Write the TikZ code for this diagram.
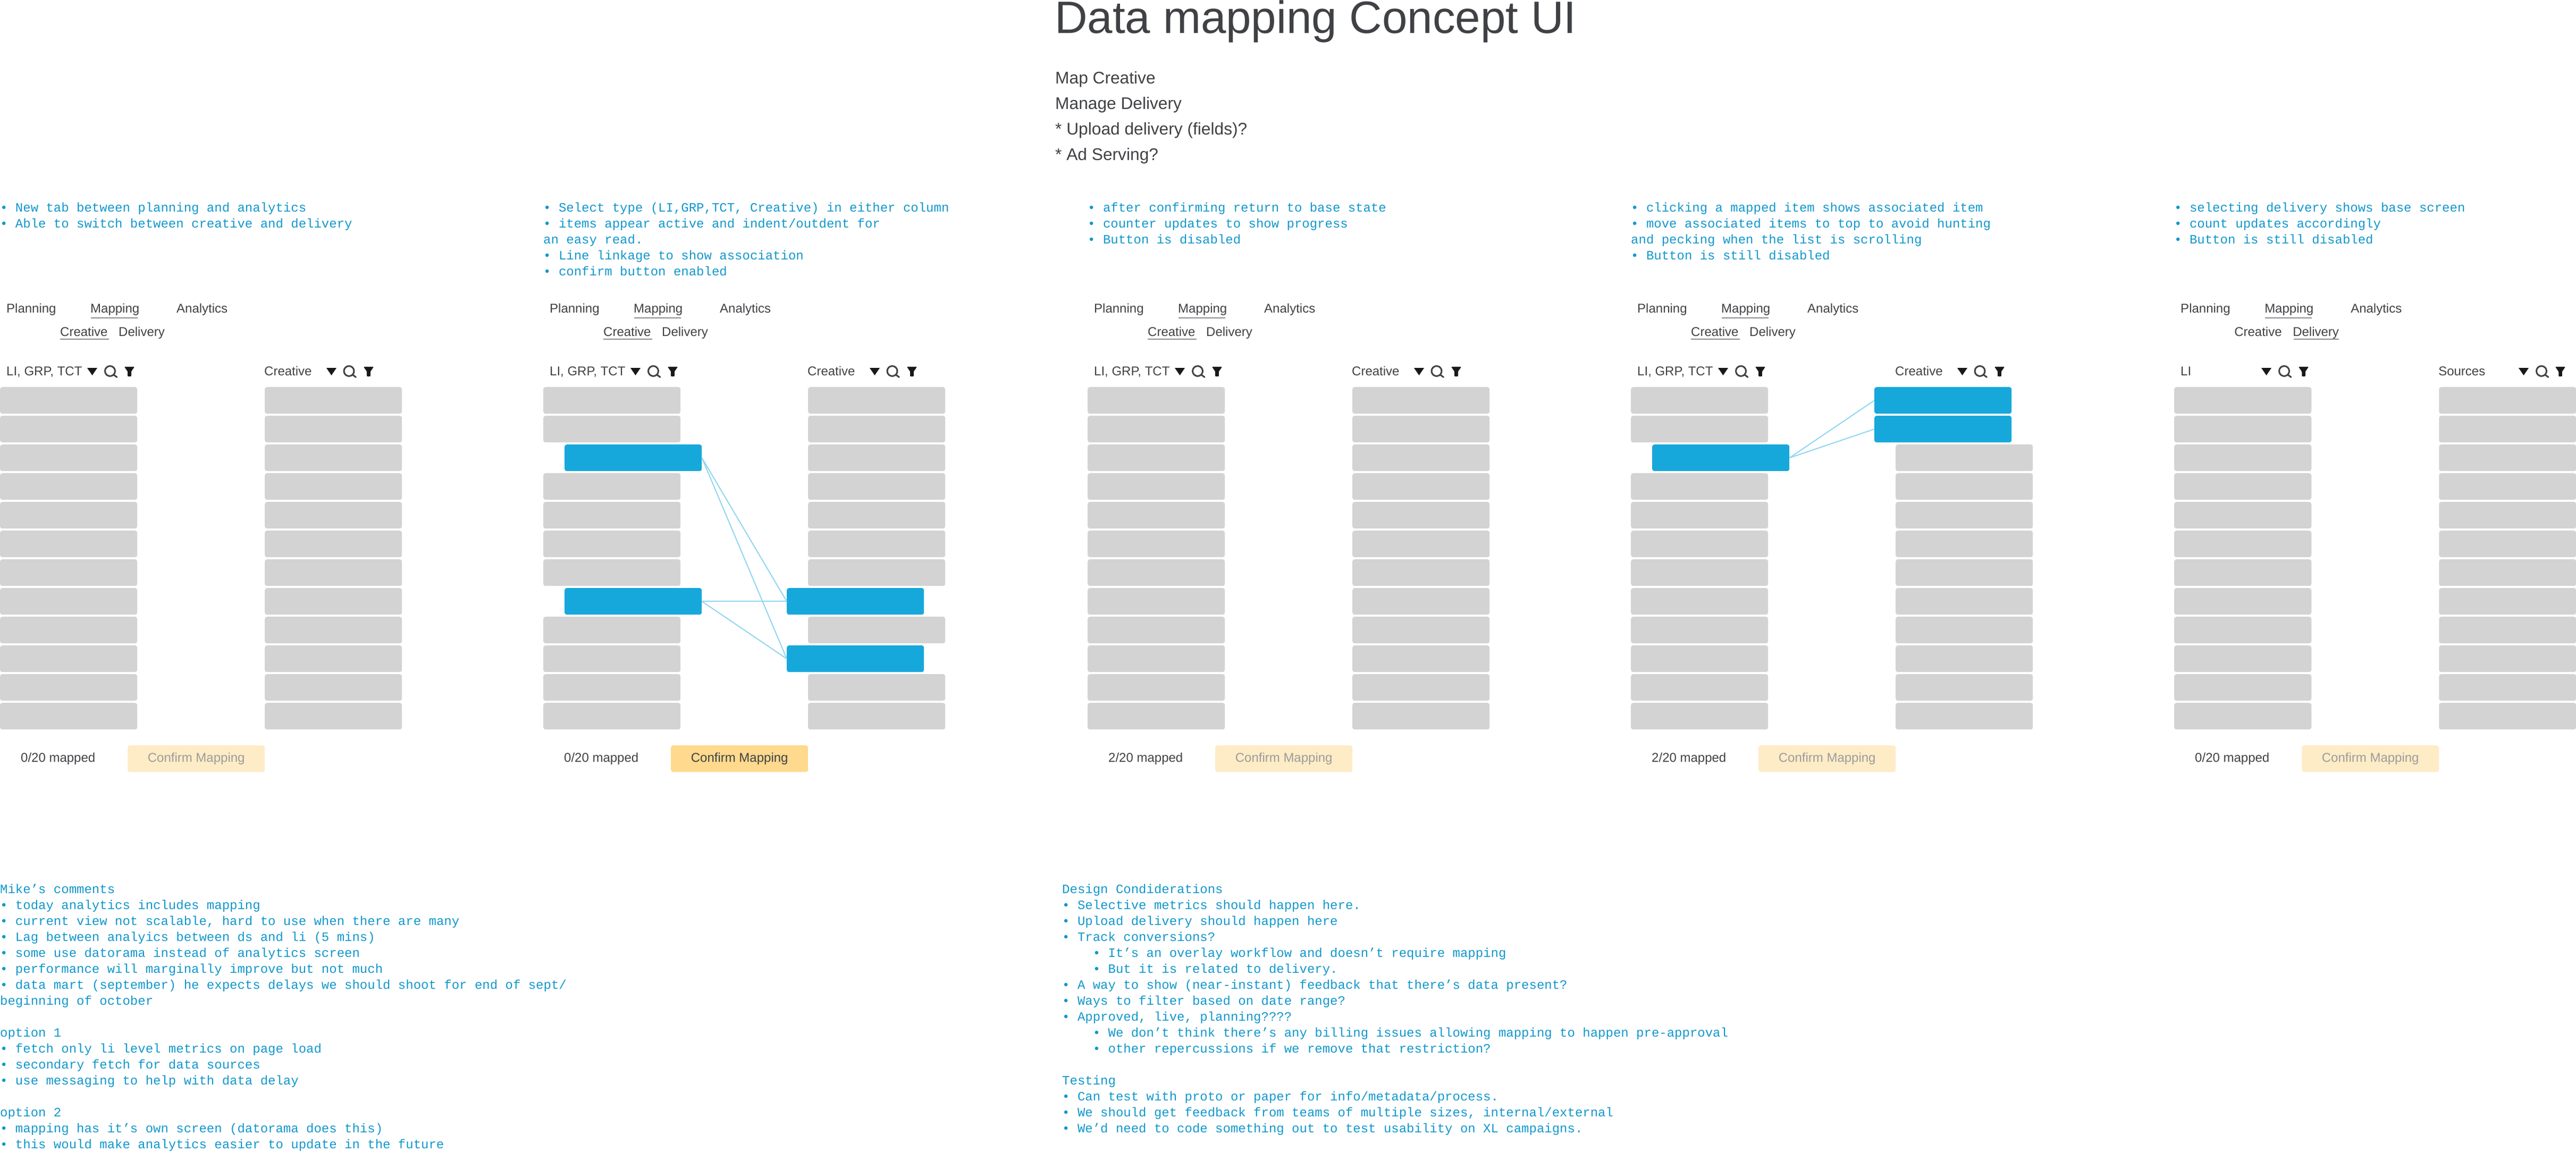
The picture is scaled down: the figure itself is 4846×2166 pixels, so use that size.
\documentclass[tikz,border=0pt]{standalone}
\usepackage{fontspec}
\setmainfont{Liberation Sans}
\newfontfamily\notefont{Liberation Mono}
\definecolor{ink}{HTML}{3F4144}
\definecolor{dark}{HTML}{18191B}
\definecolor{tabgrey}{HTML}{8E8E8E}
\definecolor{rowgrey}{HTML}{D3D3D3}
\definecolor{rowblue}{HTML}{17A8DB}
\definecolor{linkblue}{HTML}{8FD6F0}
\definecolor{notecol}{HTML}{1097CB}
\definecolor{btnon}{HTML}{FFD98D}
\definecolor{btnoff}{HTML}{FEECC6}
\definecolor{btntext}{HTML}{9C9C9C}
\tikzset{
  x=1pt,y=-1pt,
  uitext/.style={anchor=base west,inner sep=0pt,text=ink,font=\fontsize{24}{28}\selectfont},
  rowbox/.style={anchor=north west,inner sep=0pt,minimum width=258pt,minimum height=50pt,rounded corners=4pt,draw=none},
  greyrow/.style={rowbox,fill=rowgrey},
  bluerow/.style={rowbox,fill=rowblue},
  link/.style={draw=linkblue,line width=2pt},
  tabline/.style={draw=tabgrey,line width=2.5pt},
  button/.style={anchor=north west,inner sep=0pt,minimum width=258pt,minimum height=50pt,text height=18pt,text depth=6pt,rounded corners=4pt,font=\fontsize{24}{28}\selectfont},
  buttonon/.style={button,fill=btnon,text=ink},
  buttonoff/.style={button,fill=btnoff,text=btntext},
  note/.style={anchor=north west,inner sep=0pt,align=left,text=notecol,font=\notefont\fontsize{24}{30}\selectfont},
  headline/.style={anchor=base west,inner sep=0pt,text=ink,font=\fontsize{85.3}{90}\selectfont},
  subline/.style={anchor=north west,inner sep=0pt,align=left,text=ink,font=\fontsize{31.7}{48}\selectfont},
}
% rows: name prefix, x, list of rows
\newcommand{\greyrows}[3]{\foreach \r in {#3}{\node[greyrow] (#1-\r) at (#2,{728+54*\r}) {};}}
\newcommand{\bluerows}[3]{\foreach \r in {#3}{\node[bluerow] (#1-\r) at (#2,{728+54*\r}) {};}}
% nav: id, panel x
\newcommand{\navtabs}[2]{%
  \node[uitext] (plan#1) at (#2+12,588) {Planning};
  \node[uitext] (map#1) at (#2+170,588) {Mapping};
  \node[uitext] (ana#1) at (#2+332,588) {Analytics};
  \node[uitext] (cre#1) at (#2+113,632) {Creative};
  \node[uitext] (del#1) at (#2+223,632) {Delivery};
  \draw[tabline] (#2+171,598) -- (#2+259,598);
}
% icons: triangle x, search x, funnel x
\newcommand{\toolicons}[3]{%
  \fill[dark] (#1,692) -- (#1+19,692) -- (#1+9.5,706) -- cycle;
  \draw[ink,line width=3pt] (#2+11,698) circle (9.5pt);
  \draw[ink,line width=3pt,line cap=round] (#2+18,705) -- (#2+24,709.5);
  \fill[dark,rounded corners=1pt] (#3,690) -- (#3+19,690) -- (#3+12.8,699) -- (#3+12.8,708) -- (#3+6.2,708) -- (#3+6.2,699) -- cycle;
}
\begin{document}
\begin{tikzpicture}
\useasboundingbox (0,0) rectangle (4846,2166);
% title
\node[headline] (title) at (1984,62) {Data mapping Concept UI};
\node[subline] (sub) at (1985,123.4) {\strut Map Creative\\Manage Delivery\\* Upload delivery (fields)?\\* Ad Serving?};
% notes above panels
\node[note] (n1) at (0,377) {\strut • New tab between planning and analytics\\• Able to switch between creative and delivery};
\node[note] (n2) at (1022,377) {\strut • Select type (LI,GRP,TCT, Creative) in either column\\• items appear active and indent/outdent for\\an easy read.\\• Line linkage to show association\\• confirm button enabled};
\node[note] (n3) at (2046,377) {\strut • after confirming return to base state\\• counter updates to show progress\\• Button is disabled};
\node[note] (n4) at (3068,377) {\strut • clicking a mapped item shows associated item\\• move associated items to top to avoid hunting\\and pecking when the list is scrolling\\• Button is still disabled};
\node[note] (n5) at (4090,377) {\strut • selecting delivery shows base screen\\• count updates accordingly\\• Button is still disabled};
% nav
\navtabs{1}{0}\navtabs{2}{1022}\navtabs{3}{2046}\navtabs{4}{3068}\navtabs{5}{4090}
\draw[tabline] (113,638) -- (205,638);
\draw[tabline] (1135,638) -- (1227,638);
\draw[tabline] (2159,638) -- (2251,638);
\draw[tabline] (3181,638) -- (3273,638);
\draw[tabline] (4315,638) -- (4400,638);
% column headers
\node[uitext] (hl1) at (12,706) {LI, GRP, TCT};
\node[uitext] (hr1) at (497,706) {Creative};
\node[uitext] (hl2) at (1034,706) {LI, GRP, TCT};
\node[uitext] (hr2) at (1519,706) {Creative};
\node[uitext] (hl3) at (2058,706) {LI, GRP, TCT};
\node[uitext] (hr3) at (2543,706) {Creative};
\node[uitext] (hl4) at (3080,706) {LI, GRP, TCT};
\node[uitext] (hr4) at (3565,706) {Creative};
\node[uitext] (hl5) at (4102,706) {LI};
\node[uitext] (hr5) at (4587,706) {Sources};
\toolicons{164}{196}{234}\toolicons{614}{645.5}{684}
\toolicons{1186}{1218}{1256}\toolicons{1636}{1667.5}{1706}
\toolicons{2210}{2242}{2280}\toolicons{2660}{2691.5}{2730}
\toolicons{3232}{3264}{3302}\toolicons{3682}{3713.5}{3752}
\toolicons{4254}{4286}{4324}\toolicons{4738}{4770}{4807}
% panel 1
\greyrows{a}{0}{0,...,11}\greyrows{b}{498}{0,...,11}
% panel 2
\greyrows{c}{1022}{0,1,3,4,5,6,8,9,10,11}\bluerows{c}{1062}{2,7}
\greyrows{d}{1520}{0,1,2,3,4,5,6,8,10,11}\bluerows{d}{1480}{7,9}
\draw[link] (c-2.east) -- (d-7.west);
\draw[link] (c-2.east) -- (d-9.west);
\draw[link] (c-7.east) -- (d-7.west);
\draw[link] (c-7.east) -- (d-9.west);
% panel 3
\greyrows{e}{2046}{0,...,11}\greyrows{f}{2544}{0,...,11}
% panel 4
\greyrows{g}{3068}{0,1,3,4,5,6,7,8,9,10,11}\bluerows{g}{3108}{2}
\greyrows{h}{3566}{2,...,11}\bluerows{h}{3526}{0,1}
\draw[link] (g-2.east) -- (h-0.west);
\draw[link] (g-2.east) -- (h-1.west);
% panel 5
\greyrows{i}{4090}{0,...,11}\greyrows{j}{4588}{0,...,11}
% footers
\node[uitext] (c1) at (39,1433) {0/20 mapped};
\node[buttonoff] (b1) at (240,1402) {Confirm Mapping};
\node[uitext] (c2) at (1061,1433) {0/20 mapped};
\node[buttonon] (b2) at (1262,1402) {Confirm Mapping};
\node[uitext] (c3) at (2085,1433) {2/20 mapped};
\node[buttonoff] (b3) at (2286,1402) {Confirm Mapping};
\node[uitext] (c4) at (3107,1433) {2/20 mapped};
\node[buttonoff] (b4) at (3308,1402) {Confirm Mapping};
\node[uitext] (c5) at (4129,1433) {0/20 mapped};
\node[buttonoff] (b5) at (4330,1402) {Confirm Mapping};
% bottom notes
\node[note] (mike) at (0,1659) {\strut Mike’s comments\\
• today analytics includes mapping\\
• current view not scalable, hard to use when there are many\\
• Lag between analyics between ds and li (5 mins)\\
• some use datorama instead of analytics screen\\
• performance will marginally improve but not much\\
• data mart (september) he expects delays we should shoot for end of sept/\\
beginning of october\\
\strut\\
option 1\\
• fetch only li level metrics on page load\\
• secondary fetch for data sources\\
• use messaging to help with data delay\\
\strut\\
option 2\\
• mapping has it’s own screen (datorama does this)\\
• this would make analytics easier to update in the future};
\node[note] (design) at (1998,1659) {\strut Design Condiderations\\
• Selective metrics should happen here.\\
• Upload delivery should happen here\\
• Track conversions?\\
\hspace*{57.6pt}• It’s an overlay workflow and doesn’t require mapping\\
\hspace*{57.6pt}• But it is related to delivery.\\
• A way to show (near-instant) feedback that there’s data present?\\
• Ways to filter based on date range?\\
• Approved, live, planning????\\
\hspace*{57.6pt}• We don’t think there’s any billing issues allowing mapping to happen pre-approval\\
\hspace*{57.6pt}• other repercussions if we remove that restriction?\\
\strut\\
Testing\\
• Can test with proto or paper for info/metadata/process.\\
• We should get feedback from teams of multiple sizes, internal/external\\
• We’d need to code something out to test usability on XL campaigns.};
\end{tikzpicture}
\end{document}
